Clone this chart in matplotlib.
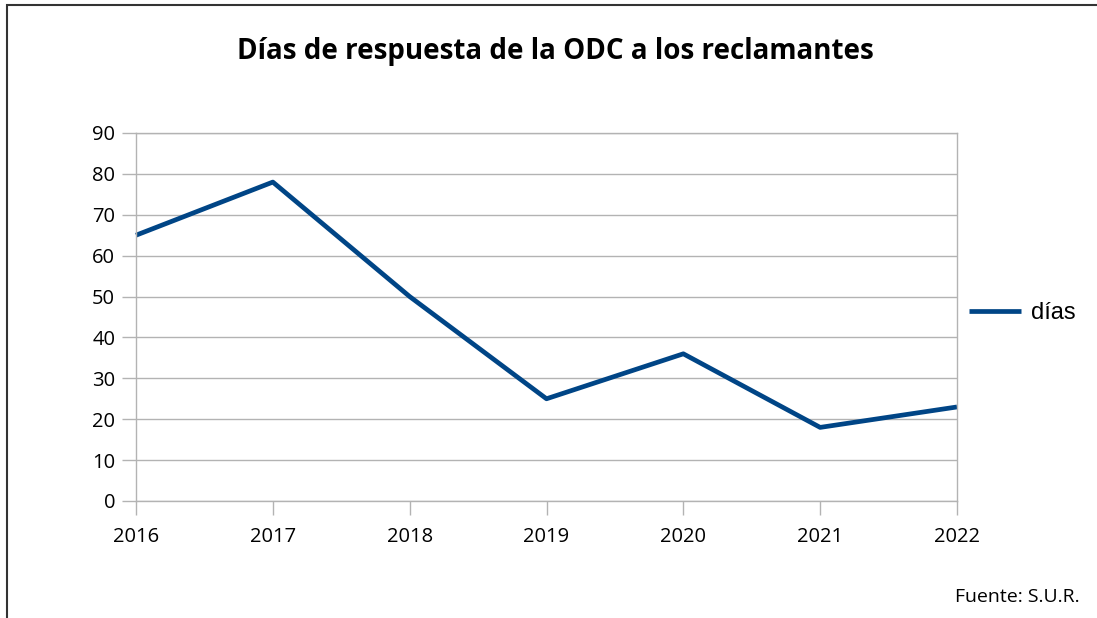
import matplotlib
matplotlib.use('Agg')
from matplotlib import pyplot as plt
from matplotlib.patches import Rectangle

# data
years = ['2016', '2017', '2018', '2019', '2020', '2021', '2022']
dias = [65, 78, 50, 25, 36, 18, 23]
y_ticks = [0, 10, 20, 30, 40, 50, 60, 70, 80, 90]

LINE_COLOR = '#004586'
GRID_COLOR = '#b3b3b3'

fig = plt.figure(figsize=(10.97, 6.18), dpi=100)
ax = fig.add_axes([136/1097, 1 - 501/618, (957 - 136)/1097, (501 - 133)/618])

x = list(range(len(years)))
line, = ax.plot(x, dias, color=LINE_COLOR, linewidth=3.4, solid_capstyle='butt', label='días', clip_on=False)

ax.set_xlim(0, len(years) - 1)
ax.set_ylim(0, 90)
ax.set_xticks(x)
ax.set_xticklabels(years, fontfamily='Open Sans', fontsize=14.5)
ax.set_yticks(y_ticks)
ax.set_yticklabels([str(v) for v in y_ticks], fontfamily='Open Sans', fontsize=14.5)
ax.yaxis.grid(True, color=GRID_COLOR, linewidth=1)
ax.set_axisbelow(True)
ax.tick_params(axis='both', length=10, width=1, color=GRID_COLOR, pad=5, labelcolor='black')
ax.tick_params(axis='x', pad=9)
for s in ax.spines.values():
    s.set_color(GRID_COLOR)
    s.set_linewidth(1)

fig.text(555/1097, 1 - 52/618, 'Días de respuesta de la ODC a los reclamantes',
         fontfamily='Open Sans', fontweight='bold', fontsize=20, ha='center', va='center')
fig.text(1080/1097, 1 - 597/618, 'Fuente: S.U.R.', fontfamily='Open Sans',
         fontsize=14, ha='right', va='center')

leg = fig.legend(handles=[line], loc='center left', bbox_to_anchor=(960/1097, 1 - 313/618),
                 frameon=False, prop={'family': 'Liberation Sans', 'size': 17},
                 handlelength=2.2, handletextpad=0.4, borderaxespad=0)

# outer frame (left and top edges visible)
fig.patches.append(Rectangle((7/1097, -0.1), 1.2, 1 - 5/618 + 0.1, transform=fig.transFigure,
                             fill=False, edgecolor='#333333', linewidth=1.5))

fig.savefig('out.png', dpi=100)
